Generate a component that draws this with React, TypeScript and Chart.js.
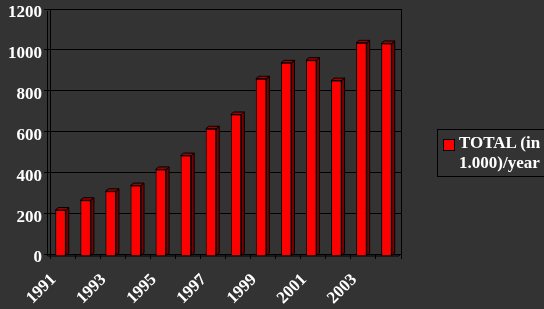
import React, { useEffect, useRef } from "react";
import { Chart, registerables } from "chart.js";

Chart.register(...registerables);

const years = ["1991", "1992", "1993", "1994", "1995", "1996", "1997", "1998", "1999", "2000", "2001", "2002", "2003", "2004"];
const totals = [225, 273, 317, 345, 424, 492, 623, 693, 868, 946, 959, 859, 1044, 1041];
const yTicks = [0, 200, 400, 600, 800, 1000, 1200];
const seriesLabel = ["TOTAL (in", "1.000)/year"];

const FONT = '"Liberation Serif", "Times New Roman", serif';
const BG = "#333333";
const FRONT_DX = -2;
const FRONT_DY = 2;
const DEPTH_X = 3;
const DEPTH_Y = 2.5;

const threeD = {
  id: "threeD",
  beforeDatasetsDraw(chart: any) {
    const ctx = chart.ctx;
    ctx.save();
    ctx.translate(FRONT_DX, FRONT_DY);
  },
  afterDatasetsDraw(chart: any) {
    const ctx = chart.ctx;
    const meta = chart.getDatasetMeta(0);
    meta.data.forEach((bar: any) => {
      const { x, y, base, width } = bar.getProps(["x", "y", "base", "width"], true);
      const l = x - width / 2;
      const r = x + width / 2;
      ctx.lineWidth = 1;
      ctx.strokeStyle = "#000000";
      ctx.beginPath();
      ctx.moveTo(r, y);
      ctx.lineTo(r + DEPTH_X, y - DEPTH_Y);
      ctx.lineTo(r + DEPTH_X, base - DEPTH_Y);
      ctx.lineTo(r, base);
      ctx.closePath();
      ctx.fillStyle = "#7a0000";
      ctx.fill();
      ctx.stroke();
      ctx.beginPath();
      ctx.moveTo(l, y);
      ctx.lineTo(l + DEPTH_X, y - DEPTH_Y);
      ctx.lineTo(r + DEPTH_X, y - DEPTH_Y);
      ctx.lineTo(r, y);
      ctx.closePath();
      ctx.fillStyle = "#a00000";
      ctx.fill();
      ctx.stroke();
    });
    ctx.restore();
  },
  afterDraw(chart: any) {
    const ctx = chart.ctx;
    const a = chart.chartArea;
    ctx.save();
    ctx.strokeStyle = "#000000";
    ctx.lineWidth = 1;
    ctx.beginPath();
    ctx.moveTo(a.right + 0.5, a.top);
    ctx.lineTo(a.right + 0.5, a.bottom);
    const fl = a.left + FRONT_DX - 0.5;
    ctx.moveTo(fl, a.top + FRONT_DY);
    ctx.lineTo(fl, a.bottom + FRONT_DY);
    ctx.lineTo(a.right + FRONT_DX, a.bottom + FRONT_DY);
    ctx.lineTo(a.right, a.bottom);
    ctx.stroke();
    ctx.restore();
  },
};

export default function App() {
  const ref = useRef<HTMLCanvasElement | null>(null);

  useEffect(() => {
    if (!ref.current) return;
    const chart = new Chart(ref.current, {
      type: "bar",
      data: {
        labels: years,
        datasets: [
          {
            label: seriesLabel.join(" "),
            data: totals,
            backgroundColor: "#ff0000",
            borderColor: "#000000",
            borderWidth: 1,
            barPercentage: 0.42,
            categoryPercentage: 1,
          },
        ],
      },
      options: {
        responsive: false,
        animation: false,
        layout: { padding: { top: 9, right: 143, bottom: 0, left: 0 } },
        plugins: { legend: { display: false }, tooltip: { enabled: false } },
        scales: {
          x: {
            grid: {
              offset: true,
              drawOnChartArea: false,
              drawTicks: true,
              tickLength: 5,
              color: "#000000",
            },
            border: { display: false },
            ticks: {
              autoSkip: false,
              minRotation: 45,
              maxRotation: 45,
              color: "#ffffff",
              font: { family: FONT, size: 17, weight: "bold" },
              padding: 11,
              labelOffset: -9,
              callback: (_v: any, i: number) => (i % 2 === 0 ? years[i] : ""),
            },
            afterFit: (s: any) => {
              s.height = 55;
              s.paddingLeft = 0;
              s.paddingRight = 0;
            },
          },
          y: {
            min: 0,
            max: 1200,
            afterBuildTicks: (s: any) => {
              s.ticks = yTicks.map((v) => ({ value: v }));
            },
            grid: {
              color: "#000000",
              drawTicks: true,
              tickLength: 6,
            },
            border: { display: true, color: "#000000" },
            ticks: {
              color: "#ffffff",
              font: { family: FONT, size: 17, weight: "bold" },
              padding: 2,
              labelOffset: 4,
              callback: (v: any) => String(v),
            },
            afterFit: (s: any) => {
              s.width = 50;
              s.paddingTop = 0;
              s.paddingBottom = 0;
            },
          },
        },
      },
      plugins: [threeD],
    });
    return () => chart.destroy();
  }, []);

  return (
    <div
      style={{
        position: "fixed",
        left: 0,
        top: 0,
        width: 544,
        height: 309,
        background: BG,
        overflow: "hidden",
      }}
    >
      <canvas ref={ref} width={544} height={309} style={{ display: "block" }} />
      <div
        style={{
          position: "absolute",
          left: 437,
          top: 129,
          width: 130,
          height: 46,
          border: "1px solid #000000",
          color: "#ffffff",
          fontFamily: FONT,
          fontWeight: "bold",
          fontSize: 17,
          lineHeight: "20px",
          boxSizing: "content-box",
        }}
      >
        <span
          style={{
            position: "absolute",
            left: 5,
            top: 9,
            width: 10,
            height: 10,
            background: "#ff0000",
            border: "1px solid #000000",
          }}
        />
        <div style={{ position: "absolute", left: 21, top: 3, whiteSpace: "nowrap" }}>
          {seriesLabel[0]}
          <br />
          {seriesLabel[1]}
        </div>
      </div>
    </div>
  );
}
